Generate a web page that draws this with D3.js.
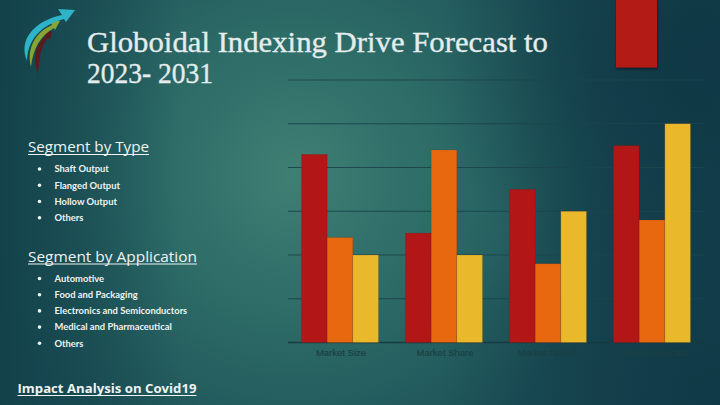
<!DOCTYPE html>
<html>
<head>
<meta charset="utf-8">
<script src="https://cdn.jsdelivr.net/npm/d3@7"></script>
<style>
  html, body { margin: 0; padding: 0; background: #1a4c53; }
  svg { display: block; }
</style>
</head>
<body>
<svg id="chart" width="720" height="405"></svg>
<script>
// ---- data ----
const categories = ["Market Size", "Market Share", "Market Growth", "Market Forecast"];
const seriesNames = ["Series 1", "Series 2", "Series 3"];
const series1 = [4.3, 2.5, 3.5, 4.5];
const series2 = [2.4, 4.4, 1.8, 2.8];
const series3 = [2.0, 2.0, 3.0, 5.0];
const yTicks = [0, 1, 2, 3, 4, 5, 6];
const typeSegments = ["Shaft Output", "Flanged Output", "Hollow Output", "Others"];
const appSegments = ["Automotive", "Food and Packaging", "Electronics and Semiconductors", "Medical and Pharmaceutical", "Others"];
const titleLines = ["Globoidal Indexing Drive Forecast to", "2023- 2031"];
const seriesColors = ["#b31616", "#e8680f", "#e9b82b"];

const svg = d3.select("#chart");
const W = 720, H = 405;
const defs = svg.append("defs");

// ---- background ----
function radial(id, cx, cy, r, stops) {
  const g = defs.append("radialGradient").attr("id", id)
    .attr("gradientUnits", "userSpaceOnUse").attr("cx", cx).attr("cy", cy).attr("r", r);
  stops.forEach(s => g.append("stop").attr("offset", s[0]).attr("stop-color", s[1]).attr("stop-opacity", s[2]));
}
radial("glow", 295, 175, 320, [[0, "#3f8074", 1], [0.45, "#30706a", 0.85], [1, "#2f6e68", 0]]);
radial("darkTR", 720, 60, 280, [[0, "#0d3241", 0.95], [1, "#0d3241", 0]]);
radial("darkBR", 720, 405, 280, [[0, "#0f3544", 0.9], [1, "#0f3544", 0]]);
const lin = defs.append("linearGradient").attr("id", "leftDark").attr("x1", 0).attr("x2", 1).attr("y1", 0).attr("y2", 0);
lin.append("stop").attr("offset", 0).attr("stop-color", "#123f49").attr("stop-opacity", 0.85);
lin.append("stop").attr("offset", 0.25).attr("stop-color", "#123f49").attr("stop-opacity", 0);
const rlin = defs.append("linearGradient").attr("id", "rightDark").attr("x1", 0).attr("x2", 1).attr("y1", 0).attr("y2", 0);
rlin.append("stop").attr("offset", 0.7).attr("stop-color", "#113a47").attr("stop-opacity", 0);
rlin.append("stop").attr("offset", 1).attr("stop-color", "#113a47").attr("stop-opacity", 0.7);

svg.append("rect").attr("width", W).attr("height", H).attr("fill", "#1c5157");
svg.append("rect").attr("width", W).attr("height", H).attr("fill", "url(#glow)");
svg.append("rect").attr("width", W).attr("height", H).attr("fill", "url(#darkTR)");
svg.append("rect").attr("width", W).attr("height", H).attr("fill", "url(#darkBR)");
svg.append("rect").attr("width", W).attr("height", H).attr("fill", "url(#rightDark)");
svg.append("rect").attr("width", W).attr("height", H).attr("fill", "url(#leftDark)");

// ---- scales ----
const plot = { left: 288, right: 704, top: 80, bottom: 342.5 };
const x0 = d3.scaleBand().domain(categories).range([plot.left, plot.right]).padding(0);
const x1 = d3.scaleBand().domain(seriesNames).range([13.5, x0.bandwidth() - 13.5]).padding(0);
const y = d3.scaleLinear().domain([0, 6]).range([plot.bottom, plot.top]);

// gridlines
svg.append("g").selectAll("line").data(yTicks).join("line")
  .attr("x1", plot.left).attr("x2", plot.right)
  .attr("y1", d => y(d)).attr("y2", d => y(d))
  .attr("stroke", d => d === 0 ? "#163a42" : "#1b464c")
  .attr("stroke-width", d => d === 0 ? 1.5 : 1.2)
  .attr("stroke-opacity", 0.95);

// decorative red block (top right)
const shadow = defs.append("filter").attr("id", "shadow").attr("x", "-20%").attr("y", "-20%").attr("width", "140%").attr("height", "140%");
shadow.append("feDropShadow").attr("dx", 0.5).attr("dy", 1.5).attr("stdDeviation", 1).attr("flood-color", "#000").attr("flood-opacity", 0.5);
svg.append("rect").attr("x", 616).attr("y", -2).attr("width", 41).attr("height", 69.5)
  .attr("fill", "#b31a16").attr("filter", "url(#shadow)");

// bars
const rows = categories.map((c, i) => ({ cat: c, vals: [series1[i], series2[i], series3[i]] }));
svg.append("g").selectAll("g").data(rows).join("g")
  .attr("transform", d => `translate(${x0(d.cat)},0)`)
  .selectAll("rect").data(d => d.vals.map((v, j) => ({ s: seriesNames[j], v, j })))
  .join("rect")
  .attr("x", d => x1(d.s)).attr("width", x1.bandwidth())
  .attr("y", d => y(d.v)).attr("height", d => y(0) - y(d.v))
  .attr("fill", d => seriesColors[d.j])
  .attr("stroke", "#5a1a10").attr("stroke-opacity", 0.25).attr("stroke-width", 0.6);

// x axis labels
svg.append("g").selectAll("text").data(categories).join("text")
  .attr("x", d => x0(d) + x0.bandwidth() / 2 + 1)
  .attr("y", 355.5)
  .attr("text-anchor", "middle")
  .attr("font-family", "Liberation Sans, Arial, sans-serif")
  .attr("font-size", 9.5)
  .attr("fill", "#1b4144")
  .attr("stroke", "#1b4144").attr("stroke-width", 0.2)
  .text(d => d);

// ---- logo ----
const logo = svg.append("g");
logo.append("path").attr("fill", "#5c1a1c")
  .attr("d", "M38,74 C32,58 36,44 46,36 L44,33 L52,31 L50,40 L48,38 C41,46 39,58 38,74 Z");
logo.append("path").attr("fill", "#86a532")
  .attr("d", "M31,67 C26,48 36,32 52,25 L50,21 L60,21 L55,30 L54,28 C41,35 33,48 31,67 Z");
logo.append("path").attr("fill", "#2fb3c7")
  .attr("d", "M27,61 C18,40 34,21 62,15 L58,9 L75,10 L66,22 L64,19 C42,25 28,38 27,61 Z");

// ---- title ----
const title = svg.append("g").attr("font-family", "Liberation Serif, 'DejaVu Serif', serif")
  .attr("fill", "#e4ecec").attr("stroke", "#e4ecec").attr("stroke-width", 0.35);
title.selectAll("text").data(titleLines).join("text")
  .attr("x", 87).attr("y", (d, i) => 52 + i * 31)
  .attr("font-size", 29)
  .attr("textLength", (d, i) => i === 0 ? 461 : 126)
  .attr("lengthAdjust", "spacingAndGlyphs")
  .text(d => d);

// ---- left text ----
const txtFill = "#eef3f3";
function heading(text, yBase, width) {
  svg.append("text").attr("x", 28).attr("y", yBase)
    .attr("font-family", "'Open Sans', 'Noto Sans', sans-serif")
    .attr("font-size", 14.5).attr("fill", txtFill)
    .attr("textLength", width).attr("lengthAdjust", "spacingAndGlyphs")
    .text(text);
  svg.append("line").attr("x1", 28).attr("x2", 28 + width)
    .attr("y1", yBase + 2.5).attr("y2", yBase + 2.5)
    .attr("stroke", txtFill).attr("stroke-width", 1);
}
function items(list, y0, step) {
  const g = svg.append("g").attr("font-family", "Lato, 'Open Sans', sans-serif")
    .attr("font-weight", "bold").attr("font-size", 9.4).attr("fill", txtFill);
  g.selectAll("circle").data(list).join("circle")
    .attr("cx", 39.5).attr("cy", (d, i) => y0 + i * step).attr("r", 1.8);
  g.selectAll("text").data(list).join("text")
    .attr("x", 54.5).attr("y", (d, i) => y0 + i * step + 3.3)
    .text(d => d);
}
heading("Segment by Type", 152, 121);
items(typeSegments, 169, 16.25);
heading("Segment by Application", 261.5, 169);
items(appSegments, 278.5, 16.2);

// covid
svg.append("text").attr("x", 17.5).attr("y", 393)
  .attr("font-family", "'Open Sans', 'Noto Sans', sans-serif")
  .attr("font-weight", "bold").attr("font-size", 12).attr("fill", txtFill)
  .attr("textLength", 179).attr("lengthAdjust", "spacingAndGlyphs")
  .text("Impact Analysis on Covid19");
svg.append("line").attr("x1", 17.5).attr("x2", 196.5).attr("y1", 395.5).attr("y2", 395.5)
  .attr("stroke", txtFill).attr("stroke-width", 1);
</script>
</body>
</html>
